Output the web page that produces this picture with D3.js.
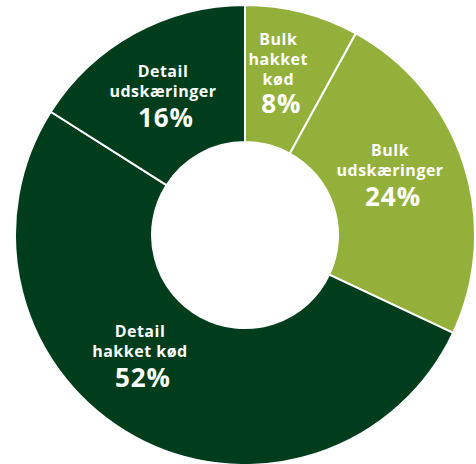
<!DOCTYPE html>
<html>
<head>
<meta charset="utf-8">
<script src="https://cdn.jsdelivr.net/npm/d3@7"></script>
<style>
    html, body { margin: 0; padding: 0; background: #fff; }
    svg text { font-family: 'Open Sans', sans-serif; font-weight: 700; fill: #fff; }
</style>
</head>
<body>
<svg id="donut"></svg>
<script>
    'use strict';

    // data, clockwise from 12 o'clock
    const categories = ['Bulk hakket kød', 'Bulk udskæringer', 'Detail hakket kød', 'Detail udskæringer'];
    const shares = [8, 24, 52, 16];
    const labelLines = [
        ['Bulk', 'hakket', 'kød'],
        ['Bulk', 'udskæringer'],
        ['Detail', 'hakket kød'],
        ['Detail', 'udskæringer']
    ];
    const colors = ['#93b03b', '#93b03b', '#003d1c', '#003d1c'];

    const width = 476;
    const height = 464;
    const cx = 245;
    const cy = 235;
    const outer = 230;
    const inner = 93;

    // hand nudges for the label blocks (relative to slice centroid)
    const nudge = [[-7, -4], [-9, -10], [-27, -21], [-4, 3]];

    let svg = d3.select('#donut')
        .attr('width', width)
        .attr('height', height);

    let chart = svg.append('g')
        .attr('transform', `translate(${cx}, ${cy})`);

    let pie = d3.pie()
        .sort(null)
        .value((d) => {
            return d;
        });

    let arc = d3.arc()
        .innerRadius(inner)
        .outerRadius(outer);

    let labelArc = d3.arc()
        .innerRadius(162)
        .outerRadius(162);

    let color = d3.scaleOrdinal()
        .domain(categories)
        .range(colors);

    let slices = pie(shares);

    chart.selectAll('.slice')
        .data(slices)
        .enter().append('path')
            .attr('class', 'slice')
            .attr('d', arc)
            .attr('fill', (d, i) => {
                return color(categories[i]);
            })
            .attr('stroke', '#fff')
            .attr('stroke-width', 2);

    let label = chart.selectAll('.label')
        .data(slices)
        .enter().append('g')
            .attr('class', 'label')
            .attr('transform', (d, i) => {
                let c = labelArc.centroid(d);
                return `translate(${c[0] + nudge[i][0]}, ${c[1] + nudge[i][1]})`;
            });

    label.each(function (d, i) {
        let g = d3.select(this);
        let lines = labelLines[i];
        let lineH = 20;
        let top = -(lines.length * lineH + 30) / 2;
        lines.forEach((t, k) => {
            g.append('text')
                .attr('text-anchor', 'middle')
                .attr('x', 0)
                .attr('y', top + (k + 1) * lineH - 4)
                .attr('font-size', 16)
                .attr('letter-spacing', 0.5)
                .text(t);
        });
        g.append('text')
            .attr('text-anchor', 'middle')
            .attr('x', 3)
            .attr('y', top + lines.length * lineH + (lines.length > 2 ? 24 : 26))
            .attr('font-size', 26)
            .attr('letter-spacing', 1)
            .text(shares[i] + '%');
    });
</script>
</body>
</html>
